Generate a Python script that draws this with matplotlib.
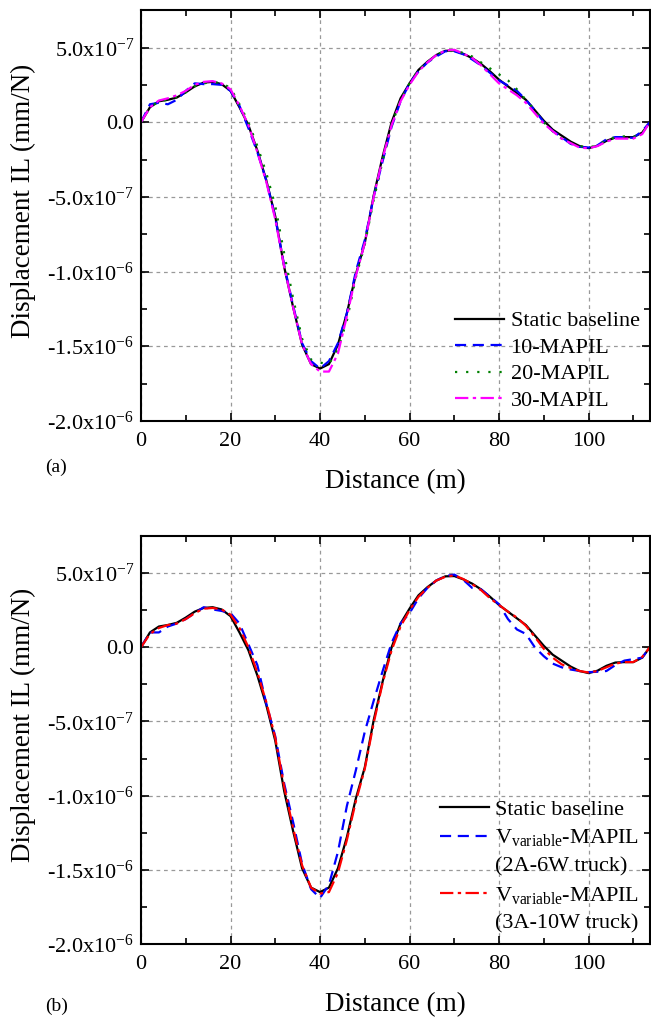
import numpy as np
import matplotlib
matplotlib.use('Agg')
import matplotlib.pyplot as plt
from matplotlib.lines import Line2D
from matplotlib.ticker import MultipleLocator, FixedLocator

plt.rcParams['font.family'] = ['Liberation Serif', 'DejaVu Serif']
plt.rcParams['mathtext.fontset'] = 'custom'
plt.rcParams['mathtext.rm'] = 'Liberation Serif'
plt.rcParams['mathtext.it'] = 'Liberation Serif:italic'

# Distance along the bridge (m)
distance = np.append(np.arange(0, 113, 2), 113.7)

# Displacement influence lines, in units of 1e-7 mm/N
static_baseline = [0, 1.0, 1.4, 1.5, 1.65, 2.0, 2.4, 2.65, 2.7, 2.55, 2.1, 1.0, -0.2, -1.9, -3.9,
                   -6.3, -9.7, -12.4, -14.9, -16.2, -16.5, -16.2, -14.9, -12.8, -10.2, -8.1, -4.9,
                   -2.3, 0.0, 1.6, 2.6, 3.5, 4.05, 4.5, 4.78, 4.8, 4.58, 4.29, 3.9, 3.4, 2.85, 2.4,
                   1.95, 1.5, 0.8, 0.1, -0.5, -0.9, -1.3, -1.6, -1.74, -1.58, -1.25, -1.03, -1.0,
                   -1.0, -0.7, 0.0]
mapil_10 = [0, 1.2, 1.3, 1.2, 1.5, 2.1, 2.6, 2.55, 2.55, 2.5, 2.1, 1.1, -0.4, -2.0, -3.9,
            -6.4, -9.6, -12.3, -14.8, -16.0, -16.5, -16.0, -14.8, -12.8, -10.0, -7.9, -5.0,
            -2.6, -0.3, 1.4, 2.6, 3.4, 4.0, 4.4, 4.75, 4.75, 4.55, 4.2, 3.8, 3.3, 2.8, 2.45,
            2.1, 1.5, 0.8, 0.0, -0.6, -1.0, -1.45, -1.65, -1.7, -1.55, -1.15, -1.0, -1.0,
            -1.05, -0.6, 0.0]
mapil_20 = [0, 1.0, 1.4, 1.5, 1.7, 2.0, 2.4, 2.6, 2.7, 2.6, 2.3, 1.2, 0.0, -1.6, -3.4,
            -5.6, -8.8, -11.8, -14.5, -15.9, -16.1, -16.2, -15.2, -13.3, -10.4, -8.2, -5.2,
            -2.6, -0.2, 1.5, 2.6, 3.5, 4.0, 4.5, 4.8, 4.75, 4.65, 4.4, 4.0, 3.6, 3.2, 2.8,
            2.2, 1.5, 0.8, 0.0, -0.6, -1.1, -1.4, -1.6, -1.7, -1.55, -1.2, -1.0, -0.95,
            -1.0, -0.7, 0.0]
mapil_30 = [0, 1.0, 1.45, 1.6, 1.8, 2.1, 2.5, 2.7, 2.75, 2.6, 2.2, 1.1, -0.2, -2.0, -4.0,
            -6.5, -9.7, -12.4, -14.9, -16.2, -16.7, -16.7, -15.5, -13.0, -10.3, -8.1, -5.0,
            -2.4, -0.2, 1.4, 2.5, 3.4, 4.0, 4.5, 4.8, 4.85, 4.6, 4.3, 3.8, 3.2, 2.6, 2.2,
            1.8, 1.3, 0.6, -0.1, -0.6, -1.1, -1.4, -1.7, -1.75, -1.6, -1.3, -1.1, -1.1,
            -1.1, -0.8, 0.0]
vvar_2a6w = [0, 1.0, 1.0, 1.4, 1.6, 1.9, 2.3, 2.7, 2.55, 2.45, 2.3, 1.6, 0.2, -1.2, -3.8,
             -6.0, -9.2, -11.8, -14.6, -16.3, -16.9, -16.0, -13.8, -10.7, -8.3, -5.7, -3.6,
             -1.6, 0.3, 1.6, 2.3, 3.3, 4.0, 4.5, 4.8, 4.9, 4.55, 4.0, 3.9, 3.4, 2.9, 1.9,
             1.2, 0.9, 0.0, -0.6, -1.1, -1.35, -1.5, -1.6, -1.68, -1.65, -1.6, -1.2, -0.9,
             -0.8, -0.7, 0.0]
vvar_3a10w = [0, 0.9, 1.3, 1.5, 1.6, 1.9, 2.3, 2.6, 2.65, 2.55, 2.2, 1.3, 0.0, -1.7, -3.7,
              -6.1, -9.4, -12.2, -14.7, -16.2, -16.6, -16.5, -15.2, -13.0, -10.4, -8.2, -5.1,
              -2.4, -0.2, 1.4, 2.5, 3.4, 4.0, 4.5, 4.75, 4.85, 4.6, 4.25, 3.85, 3.3, 2.85, 2.4,
              2.0, 1.45, 0.7, -0.1, -0.7, -1.15, -1.4, -1.6, -1.7, -1.6, -1.35, -1.1, -1.0,
              -1.0, -0.65, 0.0]

yticks = [-2.0e-6, -1.5e-6, -1.0e-6, -5.0e-7, 0.0, 5.0e-7]
ytick_labels = [r'-2.0x10$^{\mathregular{-6}}$', r'-1.5x10$^{\mathregular{-6}}$',
                r'-1.0x10$^{\mathregular{-6}}$', r'-5.0x10$^{\mathregular{-7}}$', '0.0',
                r'5.0x10$^{\mathregular{-7}}$']

scale = 1e-7


def style_axes(ax):
    ax.set_xlim(0, 113.7)
    ax.set_ylim(-2.0e-6, 7.5e-7)
    ax.xaxis.set_major_locator(MultipleLocator(20))
    ax.xaxis.set_minor_locator(MultipleLocator(10))
    ax.yaxis.set_major_locator(FixedLocator(yticks))
    ax.yaxis.set_minor_locator(MultipleLocator(2.5e-7))
    ax.set_yticklabels(ytick_labels)
    ax.tick_params(which='both', direction='in', top=True, right=True, width=1.2,
                   labelsize=16, pad=5)
    ax.tick_params(axis='x', pad=8)
    ax.tick_params(which='major', length=6)
    ax.tick_params(which='minor', length=4)
    ax.grid(True, which='major', color='#999999', linestyle=(0, (3, 3)), linewidth=0.9)
    for s in ax.spines.values():
        s.set_linewidth(1.5)
    ax.set_xlabel('Distance (m)', fontsize=19.5, labelpad=13)
    ax.set_ylabel('Displacement IL (mm/N)', fontsize=19.5)
    ax.yaxis.set_label_coords(-0.207, 0.536)


fig = plt.figure(figsize=(6.51, 10.19), dpi=100)

# (a) MAPIL with different numbers of runs
ax1 = fig.add_axes([0.2166, 0.587, 0.7816, 0.403])
ax1.plot(distance, np.array(static_baseline) * scale, color='black', lw=1.6, label='Static baseline')
ax1.plot(distance, np.array(mapil_10) * scale, color='#0000FF', lw=1.6, linestyle=(0, (5, 3)),
         label='10-MAPIL')
ax1.plot(distance, np.array(mapil_20) * scale, color='#008000', lw=1.6, linestyle=(0, (1, 4)),
         label='20-MAPIL')
ax1.plot(distance, np.array(mapil_30) * scale, color='#FF00FF', lw=1.6,
         linestyle=(0, (6, 2, 1.5, 2)), label='30-MAPIL')
style_axes(ax1)
ax1.legend(loc='upper left', bbox_to_anchor=(0.617, 0.268), frameon=False, fontsize=16,
           handlelength=2.2, handletextpad=0.3, labelspacing=0.27, borderpad=0,
           borderaxespad=0)
fig.text(0.069, 0.541, '(a)', fontsize=14, ha='left', va='center')

# (b) MAPIL from variable-speed trucks
ax2 = fig.add_axes([0.2166, 0.0736, 0.7816, 0.4004])
l0, = ax2.plot(distance, np.array(static_baseline) * scale, color='black', lw=1.6)
l1, = ax2.plot(distance, np.array(vvar_2a6w) * scale, color='#0000FF', lw=1.6,
               linestyle=(0, (5, 3)))
l2, = ax2.plot(distance, np.array(vvar_3a10w) * scale, color='#FF0000', lw=1.6,
               linestyle=(0, (6, 2, 1.5, 2)))
style_axes(ax2)
blank = Line2D([], [], color='none')
ax2.legend([l0, l1, blank, l2, blank],
           ['Static baseline', r'V$_{\mathregular{variable}}$-MAPIL', '(2A-6W truck)',
            r'V$_{\mathregular{variable}}$-MAPIL', '(3A-10W truck)'],
           loc='upper left', bbox_to_anchor=(0.587, 0.355), frameon=False, fontsize=16,
           handlelength=2.2, handletextpad=0.3, labelspacing=0.35, borderpad=0,
           borderaxespad=0)
fig.text(0.069, 0.012, '(b)', fontsize=14, ha='left', va='center')

fig.savefig('out.png', dpi=100)
